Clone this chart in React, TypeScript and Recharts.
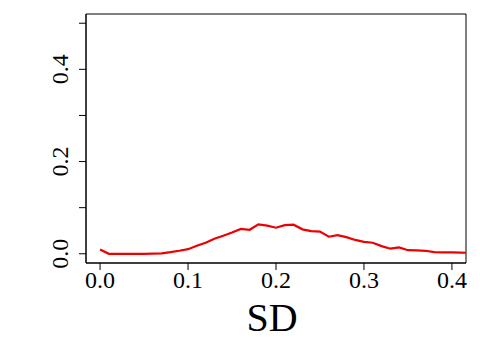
import React from "react";
import { LineChart, Line, XAxis, YAxis, ReferenceArea } from "recharts";

const sdValues = [
  0.0, 0.01, 0.02, 0.03, 0.04, 0.05, 0.06, 0.07, 0.08, 0.09,
  0.1, 0.11, 0.12, 0.13, 0.14, 0.15, 0.16, 0.17, 0.18, 0.19,
  0.2, 0.21, 0.22, 0.23, 0.24, 0.25, 0.26, 0.27, 0.28, 0.29,
  0.3, 0.31, 0.32, 0.33, 0.34, 0.35, 0.36, 0.37, 0.38, 0.39,
  0.4, 0.41, 0.42,
];
const density = [
  0.0093, 0.0, 0.0, 0.0, 0.0, 0.0, 0.0003, 0.001, 0.0035, 0.0065,
  0.010, 0.0174, 0.024, 0.0326, 0.039, 0.046, 0.054, 0.052, 0.0637, 0.061,
  0.0565, 0.062, 0.063, 0.053, 0.049, 0.048, 0.037, 0.0405, 0.036, 0.030,
  0.026, 0.024, 0.0166, 0.011, 0.0137, 0.0078, 0.0072, 0.0065, 0.0035, 0.003,
  0.003, 0.0025, 0.002,
];
const xTicks = [0, 0.1, 0.2, 0.3, 0.4];
const yTicks = [0, 0.1, 0.2, 0.3, 0.4, 0.5];
const yLabeled = [0, 0.2, 0.4];
const xLabel = "SD";
const xDomain: [number, number] = [-0.016, 0.416];
const yDomain: [number, number] = [-0.02, 0.52];

const data = sdValues.map((sd, i) => ({ sd, d: density[i] }));

const FONT = "'Liberation Serif', 'Times New Roman', serif";

const XTick = (props: any) => {
  const { x, y, payload } = props;
  return (
    <text x={x} y={y + 16} textAnchor="middle" fontFamily={FONT} fontSize={24} fill="#000">
      {Number(payload.value).toFixed(1)}
    </text>
  );
};

const YTick = (props: any) => {
  const { x, y, payload } = props;
  const v = Number(payload.value);
  if (!yLabeled.some((t) => Math.abs(t - v) < 1e-9)) return <g />;
  const bx = x - 9;
  return (
    <text
      x={bx}
      y={y}
      textAnchor="middle"
      transform={`rotate(-90, ${bx}, ${y})`}
      fontFamily={FONT}
      fontSize={24}
      fill="#000"
    >
      {v.toFixed(1)}
    </text>
  );
};

const XLabel = (props: any) => {
  const vb = props.viewBox;
  return (
    <text
      x={vb.x + vb.width / 2 - 4}
      y={vb.y + 68}
      textAnchor="middle"
      fontFamily={FONT}
      fontSize={40}
      fill="#000"
    >
      {xLabel}
    </text>
  );
};

export default function App() {
  return (
    <div style={{ position: "absolute", left: 0, top: 0, width: 480, height: 350, background: "#fff" }}>
      <LineChart width={480} height={350} data={data} margin={{ top: 14, right: 14, bottom: 0, left: 0 }}>
        <XAxis
          dataKey="sd"
          type="number"
          domain={xDomain}
          allowDataOverflow
          ticks={xTicks}
          height={87}
          tickSize={7}
          tick={<XTick />}
          tickLine={{ stroke: "#000" }}
          axisLine={{ stroke: "#000" }}
          label={<XLabel />}
        />
        <YAxis
          type="number"
          domain={yDomain}
          allowDataOverflow
          ticks={yTicks}
          width={86}
          tickSize={7}
          tick={<YTick />}
          tickLine={{ stroke: "#000" }}
          axisLine={{ stroke: "#000" }}
        />
        <ReferenceArea
          x1={xDomain[0]}
          x2={xDomain[1]}
          y1={yDomain[0]}
          y2={yDomain[1]}
          fill="none"
          fillOpacity={0}
          stroke="#000"
          strokeWidth={1}
          ifOverflow="visible"
        />
        <Line
          dataKey="d"
          type="linear"
          stroke="#ee0000"
          strokeWidth={2.2}
          dot={false}
          isAnimationActive={false}
        />
      </LineChart>
    </div>
  );
}
